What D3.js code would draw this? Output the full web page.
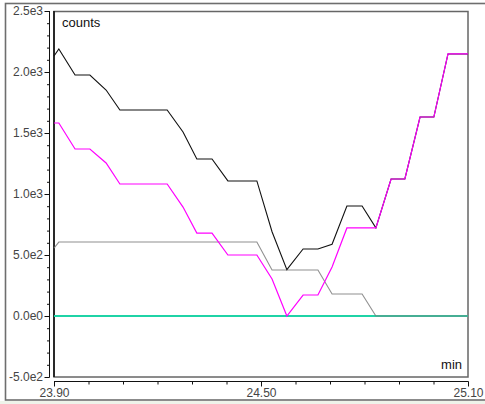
<!DOCTYPE html>
<html><head><meta charset="utf-8">
<script src="https://cdn.jsdelivr.net/npm/d3@7"></script>
<style>html,body{margin:0;padding:0;background:#fff;}svg{display:block;}</style>
</head><body>
<svg id="chart" width="485" height="404"></svg>
<script>
// time (min) of each sample
const times = [23.900, 23.914, 23.961, 24.004, 24.051, 24.091, 24.138, 24.181, 24.228, 24.274, 24.314, 24.358, 24.404, 24.448, 24.488, 24.532, 24.575, 24.622, 24.665, 24.706, 24.749, 24.793, 24.833, 24.877, 24.917, 24.961, 25.001, 25.042, 25.100];
const seriesBlack   = [2131, 2189, 1975, 1975, 1852, 1689, 1689, 1689, 1689, 1508, 1287, 1287, 1107, 1107, 1107, 691, 380, 549, 549, 588, 902, 902, 722, 1123, 1123, 1631, 1631, 2148, 2148];
const seriesMagenta = [1582, 1582, 1369, 1369, 1254, 1082, 1082, 1082, 1082, 893, 680, 680, 500, 500, 500, 303, 0, 172, 172, 402, 722, 722, 722, 1123, 1123, 1631, 1631, 2148, 2148];
const seriesGrey    = [557, 606, 606, 606, 606, 606, 606, 606, 606, 606, 606, 606, 606, 606, 606, 377, 377, 377, 377, 180, 180, 180, 0, 0, 0, 0, 0, 0, 0];
const seriesTeal    = [0, 0, 0, 0, 0, 0, 0, 0, 0, 0, 0, 0, 0, 0, 0, 0, 0, 0, 0, 0, 0, 0, 0, 0, 0, 0, 0, 0, 0];
const yTickValues = [-500, 0, 500, 1000, 1500, 2000, 2500];
const yTickLabels = ["-5.0e2", "0.0e0", "5.0e2", "1.0e3", "1.5e3", "2.0e3", "2.5e3"];
const xTickValues = [23.9, 24.5, 25.1];
const xTickLabels = ["23.90", "24.50", "25.10"];
const yAxisTitle = "counts";
const xAxisTitle = "min";

const svg = d3.select("#chart");
const L = 54, R = 468, T = 11, B = 377;
const x = d3.scaleLinear().domain([23.9, 25.1]).range([L, R]);
const y = d3.scaleLinear().domain([-500, 2500]).range([B, T]);

// outer frame
svg.append("rect").attr("x", 5.5).attr("y", 3.5).attr("width", 490).attr("height", 396.5)
  .attr("fill", "none").attr("stroke", "#6e6e6e").attr("stroke-width", 1.6);
svg.append("rect").attr("x", 0).attr("y", 401).attr("width", 485).attr("height", 3).attr("fill", "#eef3ea");

// plot frame
svg.append("rect").attr("x", L).attr("y", T + 0.5).attr("width", R - L).attr("height", B - T - 0.5)
  .attr("fill", "#fff").attr("stroke", "#666").attr("stroke-width", 1.5);
svg.append("line").attr("x1", L).attr("x2", L).attr("y1", T).attr("y2", B)
  .attr("stroke", "#111").attr("stroke-width", 1.6);

const font = "Liberation Sans, Arial, sans-serif";

// y axis
const yMinor = d3.range(-500, 2501, 100);
const yAxisMinor = svg.append("g").attr("transform", `translate(49.5,0)`)
  .call(d3.axisLeft(y).tickValues(yMinor).tickSize(2.5).tickFormat(""));
const yAxis = svg.append("g").attr("transform", `translate(49.5,0)`)
  .call(d3.axisLeft(y).tickValues(yTickValues).tickSize(5).tickPadding(1.5)
    .tickFormat((d, i) => yTickLabels[i]));
[yAxisMinor, yAxis].forEach(g => {
  g.select(".domain").attr("stroke", "#111").attr("d", `M0,${T}V${B}`);
  g.selectAll(".tick line").attr("stroke", "#111");
});
yAxis.selectAll("text").attr("font-family", font).attr("font-size", 12).attr("fill", "#444");

// x axis
const xMinor = d3.range(0, 13).map(i => 23.9 + i * 0.1);
const xAxisMinor = svg.append("g").attr("transform", `translate(0,381.5)`)
  .call(d3.axisBottom(x).tickValues(xMinor).tickSize(3).tickFormat(""));
const xAxis = svg.append("g").attr("transform", `translate(0,381.5)`)
  .call(d3.axisBottom(x).tickValues(xTickValues).tickSize(5).tickPadding(2)
    .tickFormat((d, i) => xTickLabels[i]));
[xAxisMinor, xAxis].forEach(g => {
  g.select(".domain").attr("stroke", "#111").attr("d", `M${L},0H${R}`);
  g.selectAll(".tick line").attr("stroke", "#111");
});
xAxis.selectAll("text").attr("font-family", font).attr("font-size", 12).attr("fill", "#444");

// lines
const line = d3.line().x((d, i) => x(times[i])).y(d => y(d));
const draw = (data, color, w) => svg.append("path").datum(data)
  .attr("d", line).attr("fill", "none").attr("stroke", color).attr("stroke-width", w)
  .attr("stroke-linejoin", "miter");
draw(seriesTeal, "#1fd3a6", 2.2);
draw(seriesGrey, "#7d7d7d", 1.1).attr("stroke-opacity", 0.85);
draw(seriesBlack, "#111", 1.1);
draw(seriesMagenta, "#ff00ff", 1.2);

// titles
svg.append("text").attr("x", 62).attr("y", 27).attr("font-family", font).attr("font-size", 13)
  .attr("fill", "#111").text(yAxisTitle);
svg.append("text").attr("x", 462).attr("y", 369).attr("text-anchor", "end").attr("font-family", font)
  .attr("font-size", 13).attr("fill", "#111").text(xAxisTitle);
</script>
</body></html>
